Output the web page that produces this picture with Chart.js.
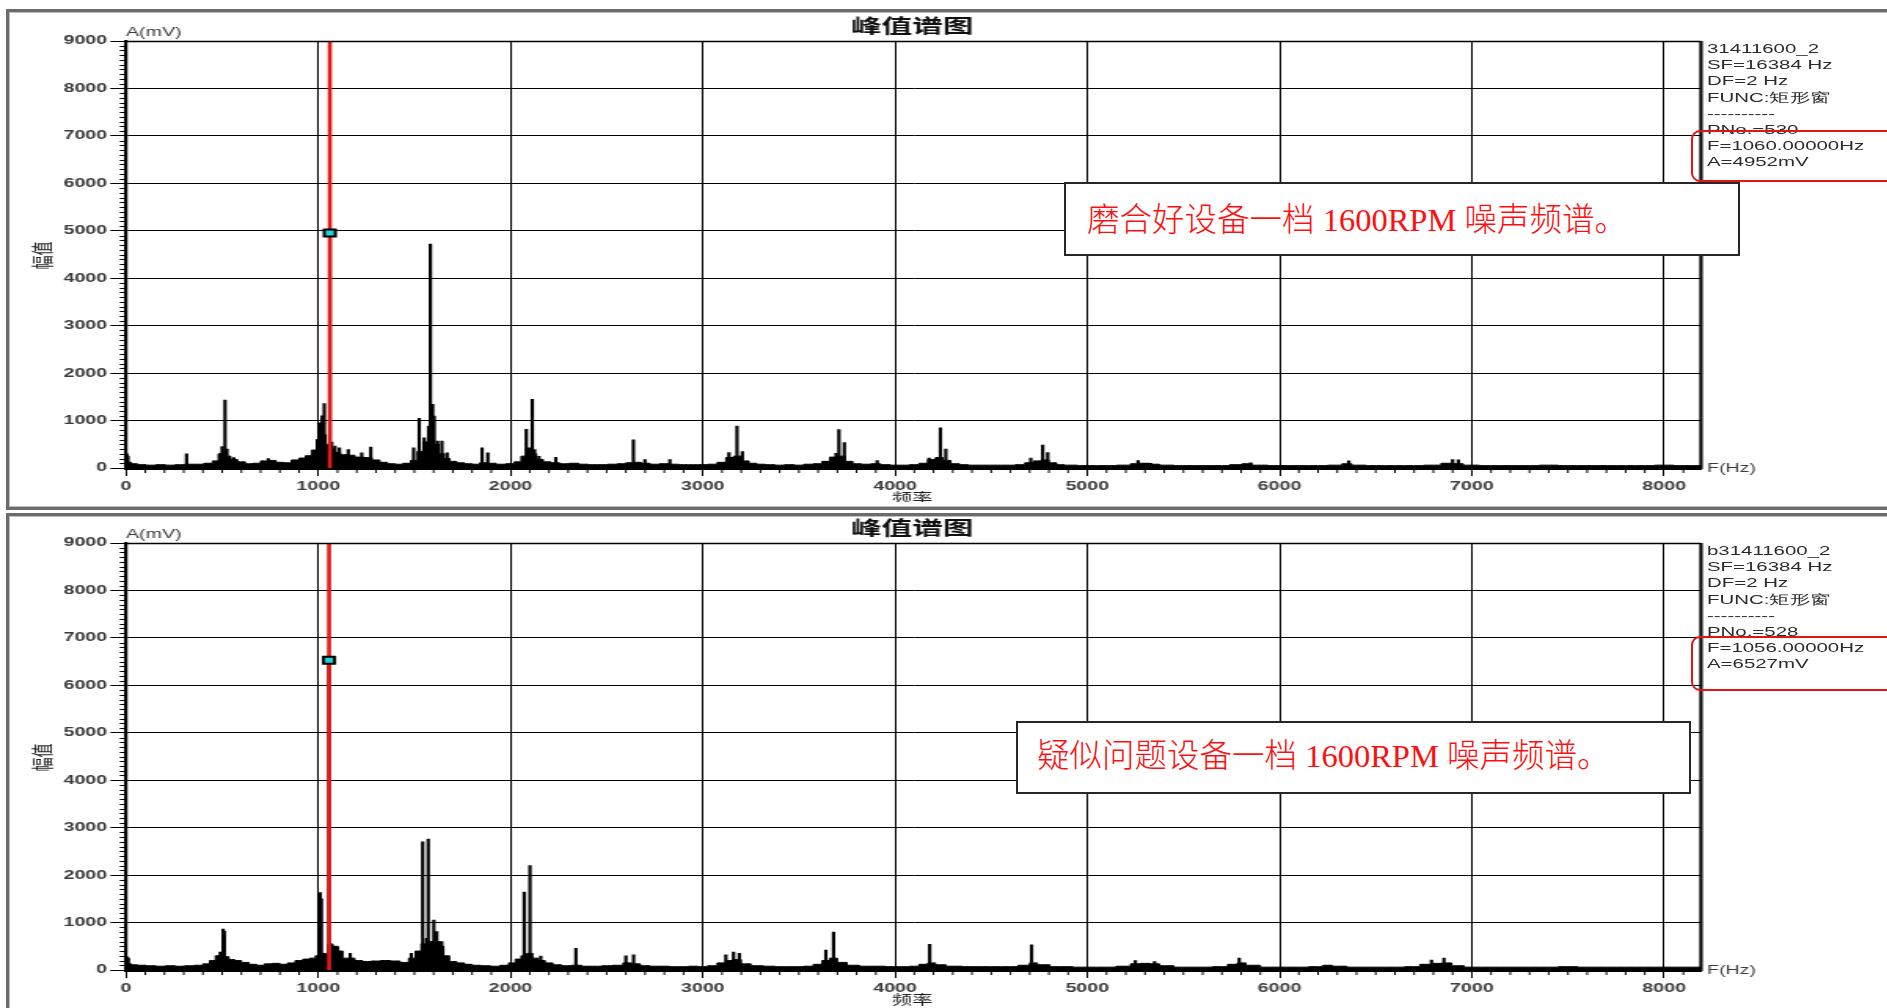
<!DOCTYPE html>
<html>
<head>
<meta charset="utf-8">
<title>峰值谱图</title>
<script src="https://cdn.jsdelivr.net/npm/chart.js@4.4.1/dist/chart.umd.min.js"></script>
<style>
  html, body { margin:0; padding:0; background:#fff; }
  body { width:1887px; height:1008px; overflow:hidden; position:relative; font-family:"Liberation Sans", Arial, sans-serif; }
  .frame { position:absolute; left:6px; width:1900px; border:3px solid #6c6c6c; box-sizing:border-box; box-shadow: inset 0 0 0 1px #bdbdbd; }
  .wrap { position:absolute; left:0; transform:scaleX(1.57); transform-origin:0 0; }
  canvas { display:block; }
  .info { position:absolute; left:1707px; font-size:13px; line-height:16.2px; color:#2b2b2b; white-space:pre; transform:scaleX(1.57); transform-origin:0 0; }
  .cursorbox { position:absolute; left:1691px; width:230px; border:2px solid #e21515; border-radius:9px; box-sizing:border-box; }
  .note { position:absolute; background:#fff; border:2px solid #262626; box-sizing:border-box; color:#ff1010;
          font-family:"Liberation Serif", "Noto Sans CJK SC", serif; font-weight:300; font-size:32.5px; white-space:nowrap;
          display:flex; align-items:center; }
</style>
</head>
<body>
<div class="frame" style="top:9px;height:501px;"></div>
<div class="frame" style="top:513px;height:510px;"></div>

<div class="wrap" style="top:0;"><canvas id="specTop" width="1202" height="502"></canvas></div>
<div class="wrap" style="top:502px;"><canvas id="specBottom" width="1202" height="506"></canvas></div>

<div class="info" id="infoTop" style="top:41px;"></div>
<div class="info" id="infoBottom" style="top:543px;"></div>
<div class="cursorbox" style="top:130px;height:52px;"></div>
<div class="cursorbox" style="top:636px;height:55px;"></div>

<div class="note" style="left:1064px;top:182px;width:676px;height:74px;padding-left:21px;padding-bottom:6px;">磨合好设备一档 1600RPM 噪声频谱。</div>
<div class="note" style="left:1016px;top:721px;width:675px;height:73px;padding-left:19px;padding-bottom:10px;">疑似问题设备一档 1600RPM 噪声频谱。</div>

<script>
// ---- axis ticks ----
const freqTicks = [0, 1000, 2000, 3000, 4000, 5000, 6000, 7000, 8000];
const ampTicks  = [0, 1000, 2000, 3000, 4000, 5000, 6000, 7000, 8000, 9000];
const freqMax = 8192;   // Hz, SF/2
const ampMax = 9000;    // mV

// ---- recording 31411600_2 (run-in unit) ----
const infoTopLines = ['31411600_2', 'SF=16384 Hz', 'DF=2 Hz', 'FUNC:矩形窗', '----------', 'PNo.=530', 'F=1060.00000Hz', 'A=4952mV'];
const cursorTop = { f: 1060, a: 4952 };
// noise floor envelope [Hz, mV]
const floorTop = [
  [0,260],[15,120],[40,90],[80,70],[130,60],[180,70],[230,60],[280,70],[330,80],[380,80],[430,100],[470,150],
  [490,300],[510,350],[530,250],[560,180],[600,130],[640,90],[680,100],[720,150],[760,160],[800,120],[840,110],
  [880,170],[920,210],[950,260],[980,380],[1000,600],[1030,700],[1050,500],[1075,400],[1100,330],[1130,280],
  [1170,270],[1210,230],[1260,220],[1300,170],[1340,120],[1380,90],[1420,80],[1460,100],[1500,160],[1530,350],
  [1560,550],[1590,750],[1615,500],[1640,300],[1670,200],[1700,140],[1740,110],[1780,90],[1820,80],[1860,110],
  [1900,100],[1950,80],[2000,90],[2040,130],[2070,250],[2095,400],[2120,300],[2150,180],[2190,130],[2230,110],
  [2280,90],[2330,100],[2380,80],[2430,70],[2480,70],[2530,80],[2580,90],[2620,110],[2660,120],[2700,100],
  [2750,80],[2800,90],[2850,80],[2900,70],[2950,70],[3000,70],[3050,80],[3100,120],[3140,220],[3180,250],
  [3220,150],[3260,100],[3300,80],[3350,70],[3400,60],[3450,70],[3500,60],[3550,80],[3600,90],[3640,140],
  [3680,230],[3720,250],[3760,140],[3800,90],[3850,80],[3900,90],[3950,70],[4000,60],[4050,60],[4100,70],
  [4150,100],[4190,180],[4230,220],[4270,160],[4310,90],[4360,70],[4400,60],[4500,60],[4600,60],[4650,70],
  [4700,110],[4740,150],[4780,170],[4820,110],[4860,70],[4900,60],[5000,50],[5100,50],[5200,60],[5250,90],
  [5300,100],[5350,80],[5400,60],[5500,50],[5600,50],[5700,50],[5780,70],[5830,90],[5880,60],[6000,50],
  [6100,50],[6200,50],[6300,60],[6350,90],[6400,60],[6500,50],[6600,50],[6700,50],[6800,60],[6880,100],
  [6930,90],[6980,60],[7100,50],[7200,50],[7300,50],[7400,60],[7500,50],[7600,50],[7700,50],[7800,50],
  [7900,50],[8000,60],[8100,50],[8192,50]
];
// spectral lines [Hz, mV]
const peaksTop = [
  [4,300],[10,250],[315,300],[500,450],[515,1430],[525,400],[560,220],[740,200],[940,250],[1010,950],[1020,1100],
  [1031,1360],[1060,4952],[1070,545],[1087,460],[1110,425],[1156,390],[1226,320],[1273,440],[1496,424],
  [1525,1046],[1551,636],[1574,884],[1583,4720],[1595,1343],[1603,1096],[1620,566],[1643,566],[1670,318],
  [1852,424],[1882,318],[2082,813],[2096,424],[2113,1449],[2125,389],[2148,247],[2235,226],[2639,592],
  [2699,177],[2829,177],[3136,323],[3178,885],[3206,346],[3693,308],[3708,808],[3736,538],[3907,154],
  [4177,208],[4236,846],[4264,400],[4706,208],[4768,485],[4794,323],[5264,154],[5301,100],[5329,100],
  [5850,110],[6360,150],[6900,180],[6930,170]
];

// ---- recording b31411600_2 (suspect unit) ----
const infoBottomLines = ['b31411600_2', 'SF=16384 Hz', 'DF=2 Hz', 'FUNC:矩形窗', '----------', 'PNo.=528', 'F=1056.00000Hz', 'A=6527mV'];
const cursorBottom = { f: 1056, a: 6527 };
const floorBottom = [
  [0,280],[15,130],[40,110],[80,100],[130,90],[180,80],[230,90],[280,80],[330,90],[380,100],[420,130],[450,200],
  [480,300],[520,280],[550,220],[580,200],[620,160],[660,120],[700,100],[740,130],[780,140],[820,120],[860,150],
  [900,200],[940,230],[970,250],[1000,300],[1040,350],[1060,550],[1090,500],[1115,400],[1140,250],[1170,250],
  [1210,200],[1250,180],[1300,190],[1350,200],[1400,190],[1450,160],[1490,250],[1520,400],[1550,550],[1580,600],
  [1610,600],[1640,500],[1665,300],[1700,180],[1740,150],[1780,120],[1820,100],[1870,90],[1920,80],[1970,100],
  [2010,150],[2040,230],[2070,300],[2100,350],[2130,250],[2160,200],[2200,150],[2240,110],[2290,90],[2340,100],
  [2400,80],[2450,80],[2500,90],[2560,100],[2610,150],[2650,130],[2700,90],[2750,80],[2800,80],[2850,70],
  [2900,70],[2950,80],[3000,70],[3050,90],[3100,150],[3140,200],[3180,220],[3220,130],[3280,90],[3350,80],
  [3400,70],[3450,70],[3500,70],[3550,80],[3600,120],[3640,200],[3680,250],[3720,160],[3780,100],[3850,80],
  [3900,80],[4000,70],[4050,70],[4100,80],[4150,120],[4190,150],[4230,110],[4300,80],[4400,70],[4500,70],
  [4600,70],[4680,100],[4720,150],[4760,110],[4850,70],[5000,60],[5100,60],[5200,80],[5250,130],[5300,140],
  [5350,130],[5400,90],[5500,60],[5600,60],[5700,70],[5760,120],[5800,150],[5850,100],[5950,60],[6100,60],
  [6200,70],[6250,100],[6300,80],[6400,60],[6500,60],[6600,60],[6700,70],[6760,120],[6820,140],[6870,150],
  [6920,90],[7000,60],[7100,60],[7200,60],[7300,60],[7400,60],[7500,70],[7600,60],[7700,60],[7800,60],
  [7900,60],[8000,60],[8100,60],[8192,60]
];
const peaksBottom = [
  [4,270],[12,250],[490,380],[505,860],[512,820],[1004,1600],[1010,1630],[1016,1500],[1056,6527],[1070,527],
  [1085,500],[1100,480],[1115,387],[1166,352],[1484,352],[1543,2700],[1563,668],[1572,2760],[1601,1054],
  [1616,808],[1630,597],[1642,597],[2071,1640],[2101,2200],[2105,352],[2157,295],[2340,457],[2600,300],
  [2640,320],[3120,320],[3160,380],[3190,350],[3640,420],[3680,800],[4180,540],[4710,530],[5250,200],
  [5350,180],[5790,250],[6790,210],[6855,250]
];

document.getElementById('infoTop').textContent = infoTopLines.join('\n');
document.getElementById('infoBottom').textContent = infoBottomLines.join('\n');

// ---- drawing ----
const K = 1.57;              // horizontal stretch of the canvas wrapper
const AXIS_X = 126 / K;      // left edge of the plot area (canvas px)
const RIGHT_PAD = 1202 - 1701 / K;
const PLOT_TOP = 41, PLOT_BOTTOM = 468;
const SANS = '"Liberation Sans", Arial, sans-serif';
const CJK = '"Noto Sans CJK SC", sans-serif';

const decor = {
  id: 'decor',
  afterDatasetsDraw(chart) {
    const { ctx, chartArea: a, scales: { x, y } } = chart;
    ctx.save();
    // frame: top and right edges
    ctx.strokeStyle = '#000';
    ctx.lineWidth = 1.6;
    ctx.beginPath();
    ctx.moveTo(a.left, a.top + 0.5); ctx.lineTo(a.right, a.top + 0.5);
    ctx.stroke();
    ctx.lineWidth = 2.2;
    ctx.beginPath();
    ctx.moveTo(a.right, a.top); ctx.lineTo(a.right, a.bottom + 1);
    ctx.stroke();
    // minor ticks
    ctx.lineWidth = 1;
    ctx.beginPath();
    for (let v = 100; v < ampMax; v += 100) {
      if (v % 1000 === 0) continue;
      const py = Math.round(y.getPixelForValue(v)) + 0.5;
      ctx.moveTo(a.left - 4, py); ctx.lineTo(a.left, py);
    }
    for (let f = 100; f < freqMax; f += 100) {
      if (f % 1000 === 0) continue;
      const px = x.getPixelForValue(f);
      ctx.moveTo(px, a.bottom); ctx.lineTo(px, a.bottom + 5);
    }
    ctx.stroke();
    // titles and units
    ctx.fillStyle = '#111';
    ctx.textBaseline = 'middle';
    ctx.textAlign = 'center';
    ctx.font = 'bold 19.5px ' + CJK;
    ctx.fillText('峰值谱图', 912 / K, 26);
    ctx.fillStyle = '#3a3a3a';
    ctx.font = '12.5px ' + SANS;
    ctx.textAlign = 'left';
    ctx.fillText('A(mV)', a.left, 33);
    ctx.fillText('F(Hz)', 1707 / K, a.bottom + 1);
    ctx.textAlign = 'center';
    ctx.font = '13px ' + CJK;
    ctx.fillStyle = '#222';
    ctx.fillText('频率', 912 / K, a.bottom + 29);
    ctx.translate(42 / K, (a.top + a.bottom) / 2 + 1);
    ctx.rotate(-Math.PI / 2);
    ctx.font = '14px ' + CJK;
    ctx.fillText('幅值', 0, 0);
    ctx.restore();
  }
};

const plainNumber = v => String(v);

function makePanel(id, floor, peaks, cursor) {
  const canvas = document.getElementById(id);
  const H = canvas.height;
  return new Chart(canvas, {
    type: 'line',
    data: {
      datasets: [
        {
          type: 'line', order: 5,
          data: floor.map(([f, a]) => ({ x: f, y: a })),
          borderColor: '#000', backgroundColor: '#000', borderWidth: 1,
          fill: 'origin', stepped: 'middle', pointRadius: 0
        },
        {
          type: 'bar', order: 4, grouped: false,
          data: peaks.map(([f, a]) => ({ x: f, y: a })),
          backgroundColor: '#000', borderWidth: 0, barThickness: 1.5
        },
        {
          type: 'line', order: 2,
          data: [{ x: cursor.f, y: 0 }, { x: cursor.f, y: ampMax }],
          borderColor: '#e01a1a', borderWidth: 2.6, pointRadius: 0, fill: false
        },
        {
          type: 'line', order: 1, showLine: false,
          data: [{ x: cursor.f, y: cursor.a }],
          pointStyle: 'rect', pointRadius: 5, borderWidth: 2,
          pointBorderColor: '#000', pointBackgroundColor: '#1fd6d6'
        }
      ]
    },
    options: {
      responsive: false, animation: false, events: [],
      layout: { padding: { left: 0, right: RIGHT_PAD, top: PLOT_TOP, bottom: 0 } },
      plugins: { legend: { display: false }, tooltip: { enabled: false }, title: { display: false } },
      scales: {
        x: {
          type: 'linear', min: 0, max: freqMax, offset: false,
          afterFit(s) { s.height = H - PLOT_BOTTOM; },
          afterBuildTicks(s) { s.ticks = freqTicks.map(v => ({ value: v })); },
          ticks: { font: { family: SANS, size: 12.5, weight: 'bold' }, color: '#3c3c3c', padding: 3, maxRotation: 0, autoSkip: false, callback: plainNumber },
          grid: { color: '#000', lineWidth: 1, tickLength: 8, offset: false },
          border: { color: '#000', width: 3 }
        },
        y: {
          min: 0, max: ampMax,
          afterFit(s) { s.width = AXIS_X; },
          afterBuildTicks(s) { s.ticks = ampTicks.map(v => ({ value: v })); },
          ticks: { font: { family: SANS, size: 12.5, weight: 'bold' }, color: '#3c3c3c', padding: 2, callback: plainNumber },
          grid: { color: '#000', lineWidth: 1, tickLength: 10 },
          border: { color: '#000', width: 2.2 }
        }
      }
    },
    plugins: [decor]
  });
}

makePanel('specTop', floorTop, peaksTop, cursorTop);
makePanel('specBottom', floorBottom, peaksBottom, cursorBottom);
</script>
</body>
</html>
